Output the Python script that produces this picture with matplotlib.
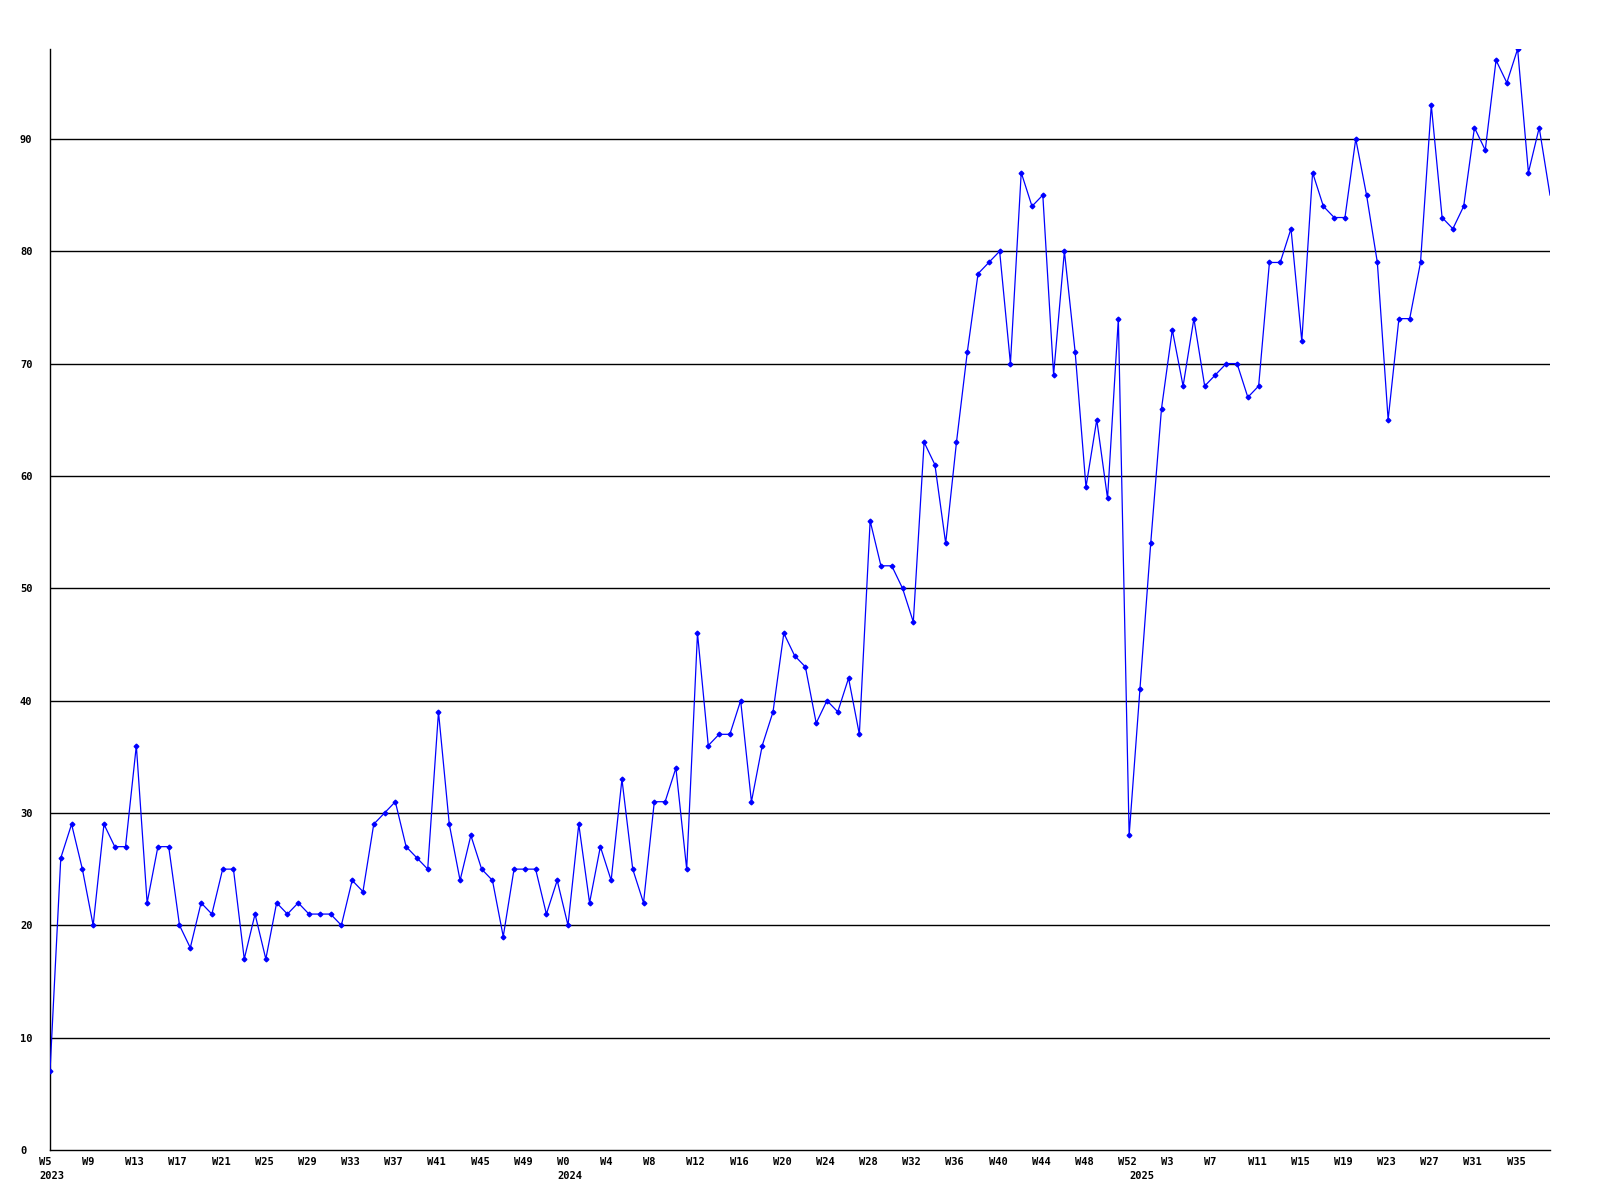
import matplotlib
matplotlib.use("Agg")
import matplotlib.pyplot as plt
import matplotlib.transforms as mtransforms

# weekly values, 2023 W5 .. 2025 W38
weeks_2023 = [f"W{w}" for w in range(5, 53)]
weeks_2024 = [f"W{w}" for w in range(0, 53)]
weeks_2025 = [f"W{w}" for w in range(0, 39)]

values_2023 = [7, 26, 29, 25, 20, 29, 27, 27, 36, 22, 27, 27, 20, 18, 22, 21,
               25, 25, 17, 21, 17, 22, 21, 22, 21, 21, 21, 20, 24, 23, 29, 30,
               31, 27, 26, 25, 39, 29, 24, 28, 25, 24, 19, 25, 25, 25, 21, 24]
values_2024 = [20, 29, 22, 27, 24, 33, 25, 22, 31, 31, 34, 25, 46, 36, 37, 37,
               40, 31, 36, 39, 46, 44, 43, 38, 40, 39, 42, 37, 56, 52, 52, 50,
               47, 63, 61, 54, 63, 71, 78, 79, 80, 70, 87, 84, 85, 69, 80, 71,
               59, 65, 58, 74, 28]
values_2025 = [41, 54, 66, 73, 68, 74, 68, 69, 70, 70, 67, 68, 79, 79, 82, 72,
               87, 84, 83, 83, 90, 85, 79, 65, 74, 74, 79, 93, 83, 82, 84, 91,
               89, 97, 95, 98, 87, 91, 85]

years = ["2023", "2024", "2025"]
week_labels = weeks_2023 + weeks_2024 + weeks_2025
values = values_2023 + values_2024 + values_2025
year_starts = [0, len(weeks_2023), len(weeks_2023) + len(weeks_2024)]
y_ticks = list(range(0, 100, 10))

x = list(range(len(values)))

fig = plt.figure(figsize=(16, 12), dpi=100)
ax = fig.add_axes([50/1600, 50/1200, 1500/1600, 1101/1200])

for v in y_ticks[1:]:
    ax.axhline(v, color="black", lw=1.0, zorder=1)

ax.plot(x, values, color="#0000ff", lw=0.9, zorder=3)
ax.plot(x[:-1], values[:-1], color="#0000ff", lw=0, marker="D", ms=2.4,
        zorder=4)

ax.set_xlim(0, len(values) - 1)
ax.set_ylim(0, 98)
for s in ["top", "right"]:
    ax.spines[s].set_visible(False)
ax.spines["left"].set_linewidth(1.0)
ax.spines["bottom"].set_linewidth(1.0)

font = dict(family="DejaVu Sans Mono", weight="bold", size=7.5)

ax.set_yticks(y_ticks)
ax.set_yticklabels([str(v) for v in y_ticks], **font)
ax.tick_params(axis="y", length=0, pad=0)
off_y = mtransforms.ScaledTranslation(-30/100, 0, fig.dpi_scale_trans)
for lab in ax.get_yticklabels():
    lab.set_horizontalalignment("left")
    lab.set_transform(lab.get_transform() + off_y)

tick_pos = x[::4]
ax.set_xticks(tick_pos)
ax.set_xticklabels([week_labels[i] for i in tick_pos], **font)
ax.tick_params(axis="x", length=0, pad=5)
off_x = mtransforms.ScaledTranslation(-11/100, 0, fig.dpi_scale_trans)
for lab in ax.get_xticklabels():
    lab.set_horizontalalignment("left")
    lab.set_transform(lab.get_transform() + off_x)

ytrans = mtransforms.blended_transform_factory(ax.transData, ax.transAxes)
for yr, start in zip(years, year_starts):
    ax.text(start, 0, yr, transform=ytrans + mtransforms.ScaledTranslation(-11/100, -26/100, fig.dpi_scale_trans),
            ha="left", va="center", **font)

fig.savefig("out.png", dpi=100)
